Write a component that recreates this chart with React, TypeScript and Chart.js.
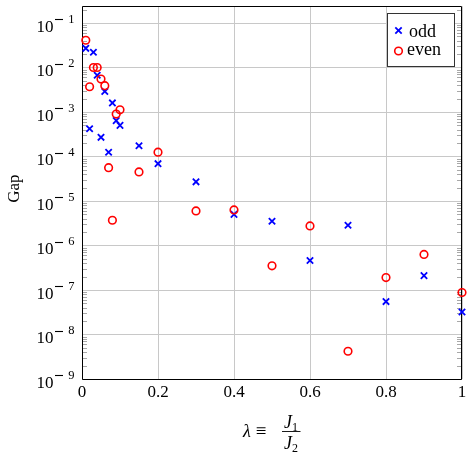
import React, { useEffect, useRef } from 'react';
import { Chart, registerables } from 'chart.js';

Chart.register(...registerables);

// Coupling ratio lambda = J1/J2
const lambdas = [0.01, 0.02, 0.03, 0.04, 0.05, 0.06, 0.07, 0.08, 0.09, 0.1, 0.15, 0.2, 0.3, 0.4, 0.5, 0.6, 0.7, 0.8, 0.9, 1.0];

// Energy gap, odd sector
const gapOdd = [2.7e-2, 4.2e-4, 2.2e-2, 6.7e-3, 2.7e-4, 2.9e-3, 1.25e-4, 1.6e-3, 6.4e-4, 5.0e-4, 1.75e-4, 6.9e-5, 2.7e-5, 5.0e-6, 3.5e-6, 4.6e-7, 2.85e-6, 5.5e-8, 2.1e-7, 3.2e-8];

// Energy gap, even sector
const gapEven = [4.1e-2, 3.7e-3, 1.0e-2, 1.0e-2, 5.5e-3, 3.9e-3, 5.6e-5, 3.7e-6, 9.0e-4, 1.12e-3, 4.5e-5, 1.25e-4, 6.0e-6, 6.3e-6, 3.5e-7, 2.75e-6, 4.2e-9, 1.9e-7, 6.3e-7, 8.8e-8];

const xTicks = [0, 0.2, 0.4, 0.6, 0.8, 1];
const xTickLabels = ['0', '0.2', '0.4', '0.6', '0.8', '1'];
const yExponents = [-9, -8, -7, -6, -5, -4, -3, -2, -1];
const yMin = 1e-9;
const yMax = 0.2376;

const SERIF = "'Liberation Serif', 'DejaVu Serif', serif";
const ODD_COLOR = '#0000ff';
const EVEN_COLOR = '#ff0000';
const GRID_COLOR = '#c8c8c8';

function drawCross(ctx: CanvasRenderingContext2D, x: number, y: number, r: number) {
  const d = r * Math.SQRT1_2;
  ctx.save();
  ctx.strokeStyle = ODD_COLOR;
  ctx.lineWidth = 1.8;
  ctx.beginPath();
  ctx.moveTo(x - d, y - d);
  ctx.lineTo(x + d, y + d);
  ctx.moveTo(x - d, y + d);
  ctx.lineTo(x + d, y - d);
  ctx.stroke();
  ctx.restore();
}

function drawRing(ctx: CanvasRenderingContext2D, x: number, y: number, r: number) {
  ctx.save();
  ctx.strokeStyle = EVEN_COLOR;
  ctx.lineWidth = 1.6;
  ctx.beginPath();
  ctx.arc(x, y, r, 0, Math.PI * 2);
  ctx.stroke();
  ctx.restore();
}

const frameAndLabels = {
  id: 'frameAndLabels',
  beforeDatasetsDraw(chart: any) {
    const { ctx, chartArea: a, scales } = chart;
    const yScale = scales.y;
    ctx.save();
    // minor ticks on the log axis, inside the frame on both sides
    ctx.strokeStyle = '#a8a8a8';
    ctx.lineWidth = 1;
    ctx.beginPath();
    for (const e of yExponents.concat([0])) {
      for (let m = 2; m <= 9; m++) {
        const v = m * Math.pow(10, e - 1);
        if (v <= yMin || v >= yMax) continue;
        const py = Math.round(yScale.getPixelForValue(v)) + 0.5;
        ctx.moveTo(a.left, py);
        ctx.lineTo(a.left + 5, py);
        ctx.moveTo(a.right - 5, py);
        ctx.lineTo(a.right, py);
      }
    }
    ctx.stroke();
    // frame
    ctx.strokeStyle = '#000';
    ctx.lineWidth = 1;
    const l = Math.round(a.left) + 0.5;
    const r = Math.round(a.right) - 0.5;
    const t = Math.round(a.top) + 0.5;
    const b = Math.round(a.bottom) + 0.5;
    ctx.beginPath();
    ctx.moveTo(l, t);
    ctx.lineTo(r, t);
    ctx.lineTo(r, b);
    ctx.lineTo(l, b);
    ctx.closePath();
    ctx.stroke();
    ctx.restore();
  },
  afterDraw(chart: any) {
    const { ctx, chartArea: a, scales } = chart;
    const xScale = scales.x;
    const yScale = scales.y;
    ctx.save();
    ctx.fillStyle = '#000';
    ctx.strokeStyle = '#000';
    ctx.textBaseline = 'alphabetic';

    // y tick labels: 10^e, exponent with a long math minus
    for (const e of yExponents) {
      const py = yScale.getPixelForValue(Math.pow(10, e));
      ctx.font = `17px ${SERIF}`;
      ctx.textAlign = 'right';
      ctx.fillText('10', a.left - 28.5, py + 8.5);
      ctx.lineWidth = 1.1;
      ctx.beginPath();
      ctx.moveTo(a.left - 27, Math.round(py) - 3.5);
      ctx.lineTo(a.left - 19, Math.round(py) - 3.5);
      ctx.stroke();
      ctx.font = `12.5px ${SERIF}`;
      ctx.textAlign = 'right';
      ctx.fillText(String(-e), a.left - 7.5, py - 0.3);
    }

    // x tick labels
    ctx.font = `17px ${SERIF}`;
    ctx.textAlign = 'center';
    xTicks.forEach((v, i) => {
      const px = xScale.getPixelForValue(v);
      ctx.fillText(xTickLabels[i], px, a.bottom + 18);
    });

    // y axis title
    ctx.save();
    ctx.translate(18.5, (a.top + a.bottom) / 2 - 4);
    ctx.rotate(-Math.PI / 2);
    ctx.font = `17px ${SERIF}`;
    ctx.textAlign = 'center';
    ctx.fillText('Gap', 0, 0);
    ctx.restore();

    // x axis title: lambda = J1 / J2
    const cx = (a.left + a.right) / 2;
    ctx.font = `italic 18px ${SERIF}`;
    ctx.textAlign = 'left';
    ctx.fillText('\u03bb', cx - 29, 437);
    ctx.font = `19px ${SERIF}`;
    ctx.textAlign = 'center';
    ctx.fillText('\u2261', cx - 11, 437);
    ctx.lineWidth = 0.9;
    ctx.beginPath();
    ctx.moveTo(cx + 10, 431.5);
    ctx.lineTo(cx + 28.5, 431.5);
    ctx.stroke();
    ctx.textAlign = 'left';
    ctx.font = `italic 18px ${SERIF}`;
    ctx.fillText('J', cx + 12, 428);
    ctx.fillText('J', cx + 12, 449);
    ctx.font = `12px ${SERIF}`;
    ctx.fillText('1', cx + 20, 430.5);
    ctx.fillText('2', cx + 20, 452);

    // legend
    const bw = 67;
    const bh = 53;
    const bl = Math.round(a.right) - 8 - bw;
    const bt = Math.round(a.top) + 7;
    ctx.fillStyle = '#fff';
    ctx.fillRect(bl, bt, bw, bh);
    ctx.strokeStyle = '#333';
    ctx.lineWidth = 1;
    ctx.strokeRect(bl + 0.5, bt + 0.5, bw, bh);
    drawCross(ctx, bl + 11.5, bt + 17.5, 4.5);
    drawRing(ctx, bl + 11.5, bt + 38, 3.8);
    ctx.fillStyle = '#000';
    ctx.font = `18px ${SERIF}`;
    ctx.textAlign = 'left';
    ctx.fillText('odd', bl + 22, bt + 23.5);
    ctx.fillText('even', bl + 20, bt + 42);
    ctx.restore();
  },
};

export default function App() {
  const canvasRef = useRef<HTMLCanvasElement | null>(null);

  useEffect(() => {
    const canvas = canvasRef.current;
    if (!canvas) return;
    const chart = new Chart(canvas, {
      type: 'scatter',
      data: {
        datasets: [
          {
            label: 'even',
            data: lambdas.map((x, i) => ({ x, y: gapEven[i] })),
            showLine: false,
            pointStyle: 'circle',
            pointRadius: 3.8,
            pointHoverRadius: 3.8,
            borderWidth: 1.6,
            borderColor: EVEN_COLOR,
            backgroundColor: 'rgba(0,0,0,0)',
            clip: false,
          },
          {
            label: 'odd',
            data: lambdas.map((x, i) => ({ x, y: gapOdd[i] })),
            showLine: false,
            pointStyle: 'crossRot',
            pointRadius: 4.5,
            pointHoverRadius: 4.5,
            borderWidth: 1.8,
            borderColor: ODD_COLOR,
            backgroundColor: ODD_COLOR,
            clip: false,
          },
        ],
      },
      options: {
        responsive: false,
        animation: false,
        devicePixelRatio: 1,
        events: [],
        layout: { padding: { top: 0, left: 0, right: 11, bottom: 0 } },
        plugins: {
          legend: { display: false },
          tooltip: { enabled: false },
        },
        scales: {
          x: {
            type: 'linear',
            min: 0,
            max: 1,
            afterBuildTicks: (s: any) => {
              s.ticks = xTicks.map((v) => ({ value: v }));
            },
            ticks: { display: false },
            grid: { color: GRID_COLOR, lineWidth: 1, drawTicks: false },
            border: { display: false },
            afterFit: (s: any) => {
              s.height = 79;
            },
          },
          y: {
            type: 'logarithmic',
            min: yMin,
            max: yMax,
            afterBuildTicks: (s: any) => {
              s.ticks = yExponents.map((e) => ({ value: Math.pow(10, e) }));
            },
            ticks: { display: false },
            grid: { color: GRID_COLOR, lineWidth: 1, drawTicks: false },
            border: { display: false },
            afterFit: (s: any) => {
              s.width = 82;
            },
          },
        },
      },
      plugins: [frameAndLabels],
    } as any);
    return () => chart.destroy();
  }, []);

  return (
    <div style={{ position: 'fixed', left: 0, top: 0, width: 473, height: 458, background: '#fff' }}>
      <canvas ref={canvasRef} width={473} height={458} style={{ display: 'block' }} />
    </div>
  );
}
